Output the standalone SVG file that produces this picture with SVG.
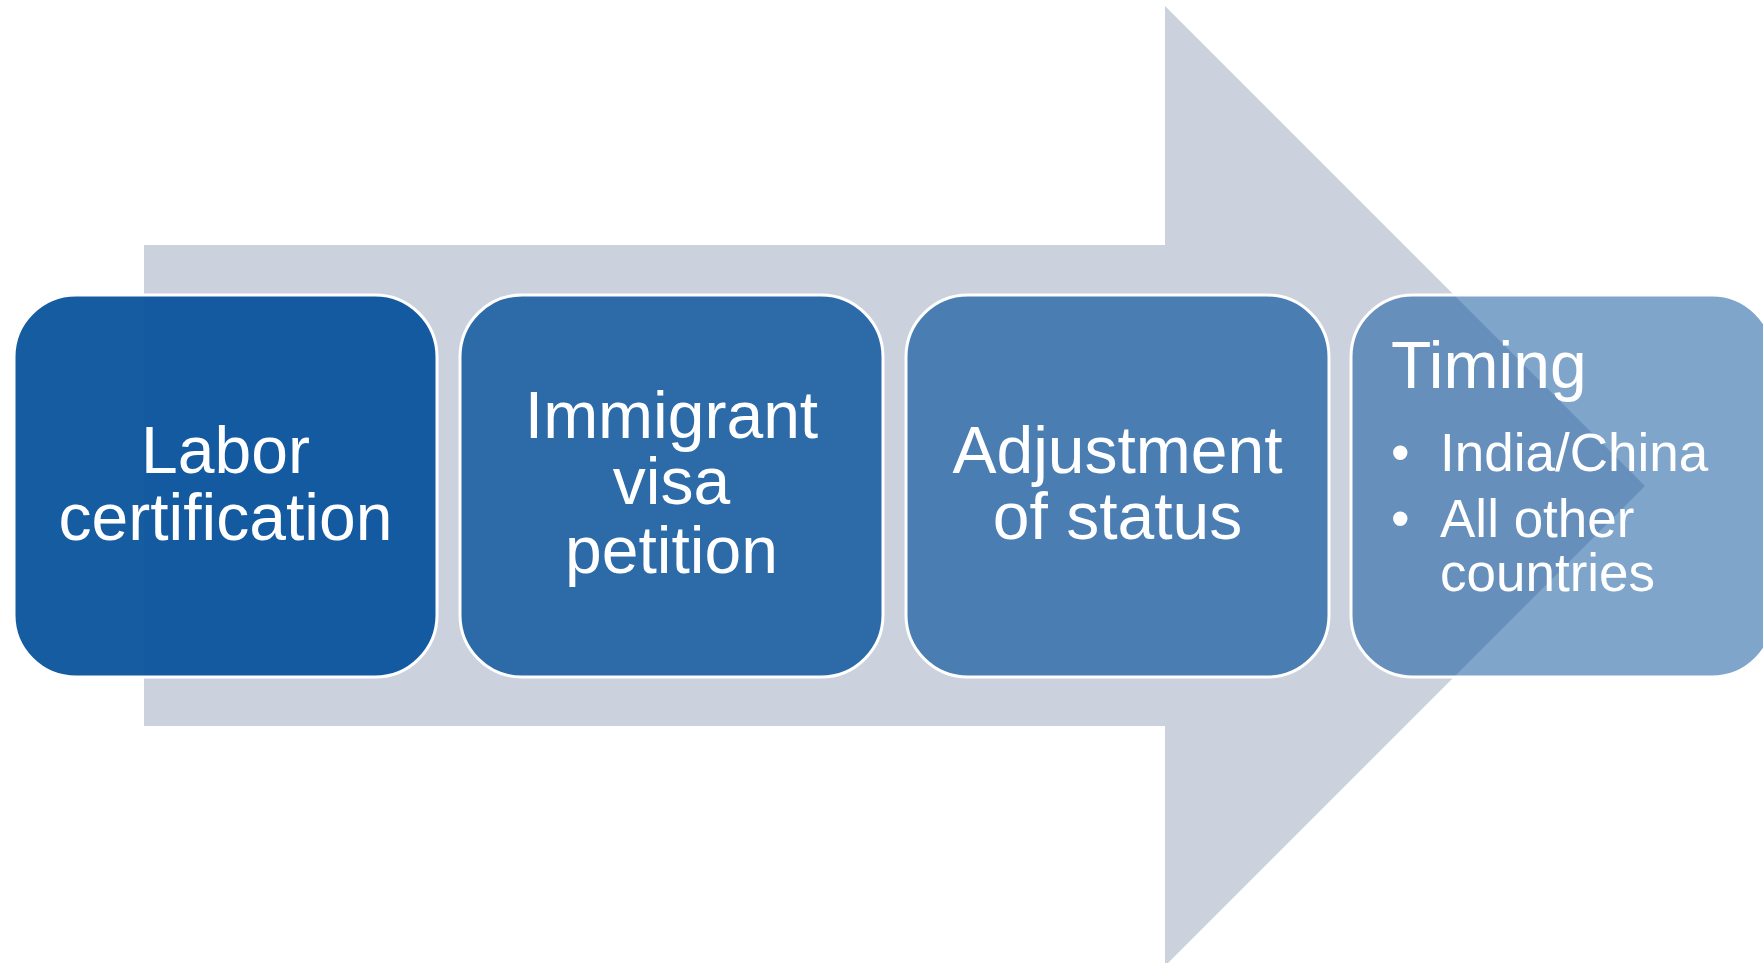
<svg xmlns="http://www.w3.org/2000/svg" width="1763" height="963" viewBox="0 0 1763 963">
<style>
.box{stroke:#ffffff;stroke-width:3}
.t{font-family:"Liberation Sans",Arial,sans-serif;fill:#ffffff;font-size:66px}
.c{text-anchor:middle}
.s{font-size:53px}
</style>
<rect width="1763" height="963" fill="#ffffff"/>
<g id="arrow">
<polygon points="144,245 1165,245 1165,6 1645,486 1165,966 1165,726 144,726" fill="#CBD1DD"/>
</g>
<g id="connectors"></g>
<g id="node1">
<rect class="box" x="14" y="295" width="423" height="382" rx="62" fill="#0A539C" fill-opacity="0.95"/>
<text class="t c" x="225.5" y="473">Labor</text>
<text class="t c" x="225.5" y="540">certification</text>
</g>
<g id="node2">
<rect class="box" x="460" y="295" width="423" height="382" rx="62" fill="#0A539C" fill-opacity="0.82"/>
<text class="t c" x="671.5" y="438">Immigrant</text>
<text class="t c" x="671.5" y="504">visa</text>
<text class="t c" x="671.5" y="573">petition</text>
</g>
<g id="node3">
<rect class="box" x="906" y="295" width="423" height="382" rx="62" fill="#0A539C" fill-opacity="0.67"/>
<text class="t c" x="1117.5" y="473">Adjustment</text>
<text class="t c" x="1117.5" y="539">of status</text>
</g>
<g id="node4">
<rect class="box" x="1351" y="295" width="423" height="382" rx="62" fill="#0A539C" fill-opacity="0.52"/>
<text class="t" x="1391" y="388">Timing</text>
<text class="t s" x="1391" y="471">•</text>
<text class="t s" x="1440" y="471">India/China</text>
<text class="t s" x="1391" y="537">•</text>
<text class="t s" x="1440" y="537">All other</text>
<text class="t s" x="1440" y="591">countries</text>
</g>
</svg>
